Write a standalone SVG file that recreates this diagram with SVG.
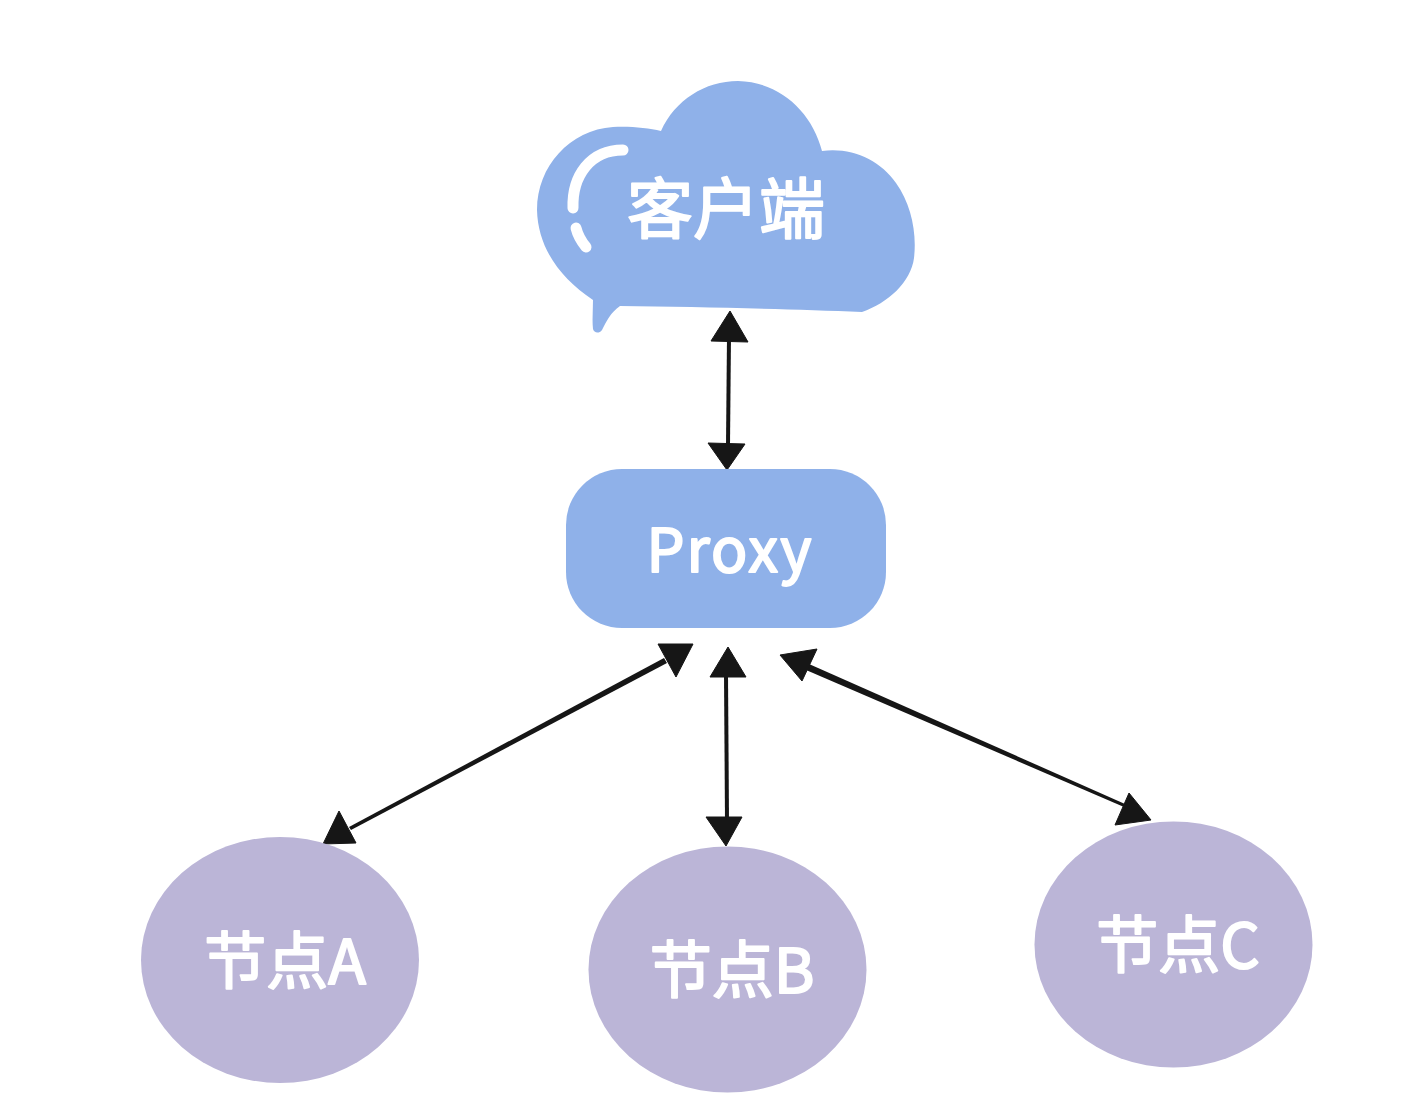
<svg xmlns="http://www.w3.org/2000/svg" width="1422" height="1120" viewBox="0 0 1422 1120">
<style>
.blue{fill:#8fb1e9}
.purple{fill:#bbb5d7}
.t{fill:#fff;stroke:#fff;stroke-width:2;stroke-linejoin:round;font-family:"Noto Sans CJK SC","Noto Sans",sans-serif;font-weight:400;text-anchor:middle}
.l{fill:#161616}
.h{fill:#161616;stroke:#161616;stroke-width:1;stroke-linejoin:round}
.g{fill:none;stroke:#fff;stroke-width:11;stroke-linecap:round}
</style>
<rect width="1422" height="1120" fill="#fff"/>
<g id="connectors">
<polygon class="l" points="727,335 731,335 730,445 726,445"/>
<polygon class="h" points="730,311 748,342 711,341"/>
<polygon class="h" points="708,443 745,444 727,470"/>
<polygon class="l" points="664,658 667,663 351,830 349,827"/>
<polygon class="h" points="658,644 693,644 676,677"/>
<polygon class="h" points="339,811 356,843 323,844"/>
<polygon class="l" points="724,675 728,675 729,820 725,820"/>
<polygon class="h" points="728,647 746,677 710,677"/>
<polygon class="h" points="706,817 742,817 726,846"/>
<polygon class="l" points="809,664 1125,804 1124,807 806,670"/>
<polygon class="h" points="780,655 817,649 802,681"/>
<polygon class="h" points="1129,793 1151,820 1115,825"/>
</g>
<g id="client">
<path class="blue" d="M661 131C675 100 705 81 738 81C780 82 812 112 822 151C852 147 880 160 896 183C911 204 917 232 914 258C911 282 888 303 862 312C790 309 700 307 620 306C611 312 606 322 602 330C599 334 594 333 593 329C592 320 593 310 593 300C560 278 538 248 537 210C537 166 570 130 613 127C630 126 648 128 661 131Z"/>
<path class="g" d="M623 150C590 150 572 176 573 208"/>
<path class="g" d="M576 228C578 236 581 241 586 247"/>
<text class="t" x="726" y="233" font-size="66">客户端</text>
</g>
<g id="proxy">
<rect class="blue" x="566" y="469" width="320" height="159" rx="56"/>
<text class="t" x="730" y="572" font-size="60" letter-spacing="2">Proxy</text>
</g>
<g id="nodeA">
<ellipse class="purple" cx="280" cy="960" rx="139" ry="123"/>
<text class="t" x="285" y="984" font-size="62">节点A</text>
</g>
<g id="nodeB">
<ellipse class="purple" cx="727.500" cy="969.500" rx="139" ry="123"/>
<text class="t" x="732" y="993" font-size="62">节点B</text>
</g>
<g id="nodeC">
<ellipse class="purple" cx="1173.500" cy="944.500" rx="139" ry="123"/>
<text class="t" x="1178" y="968" font-size="62">节点C</text>
</g>
</svg>
